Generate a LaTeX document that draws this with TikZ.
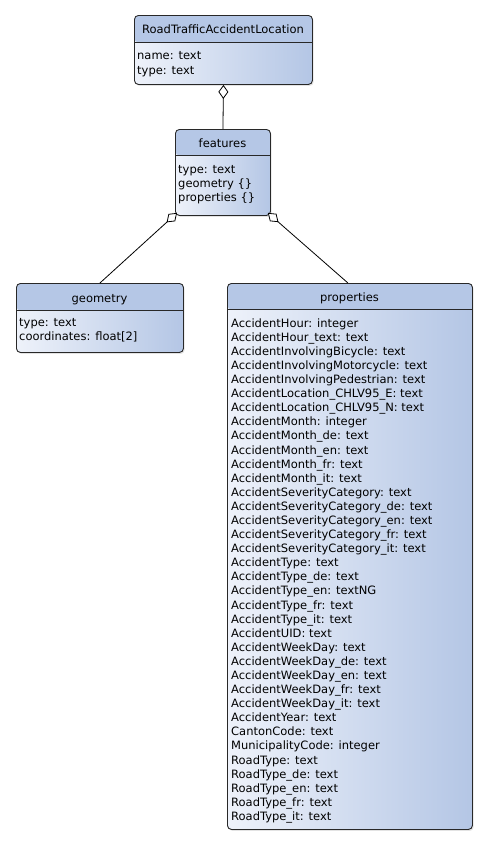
\documentclass[tikz,border=0pt]{standalone}
\usepackage{fontspec}
\setmainfont{DejaVu Sans}
\usetikzlibrary{arrows.meta,shadows}

\definecolor{headblue}{RGB}{181,199,230}
\definecolor{bodylight}{RGB}{238,242,250}
\definecolor{bodydark}{RGB}{180,198,229}
\definecolor{edgegray}{RGB}{40,40,40}

\tikzset{
  % class box: shaded body, header band of height #1, separator line
  classbox/.style={
    draw=edgegray, line width=0.9pt, rounded corners=4pt,
    anchor=north west, inner sep=0pt,
    left color=bodylight, right color=bodydark,
    drop shadow={shadow xshift=1.2pt, shadow yshift=-1.5pt, opacity=0.22},
    path picture={
      \fill[headblue] (path picture bounding box.north west)
        rectangle ([yshift=-#1]path picture bounding box.north east);
      \draw[edgegray, line width=0.9pt]
        ([yshift=-#1]path picture bounding box.north west)
        -- ([yshift=-#1]path picture bounding box.north east);
    }
  },
  classtitle/.style={anchor=base, inner sep=0pt, font=\fontsize{11.5}{13}\selectfont},
  attrs/.style={anchor=north west, inner sep=0pt, align=left, font=\fontsize{11.5}{#1}\selectfont},
  aggr/.style={draw=black, line width=0.8pt,
    -{Diamond[fill=white, length=14pt, width=10pt, line width=0.8pt]}}
}

\begin{document}
\begin{tikzpicture}[x=1pt, y=-1pt]
  \fill[white] (0,0) rectangle (488,844);
  \useasboundingbox (0,0) rectangle (488,844);

  % class boxes
  \node[classbox=27pt, minimum width=178pt, minimum height=69pt] (loc) at (134,15) {};
  \node[classbox=26pt, minimum width=95pt, minimum height=86pt] (feat) at (175,129) {};
  \node[classbox=27pt, minimum width=167pt, minimum height=69pt] (geom) at (16,283) {};
  \node[classbox=26pt, minimum width=245pt, minimum height=546pt] (props) at (227,283) {};

  % class names
  \node[classtitle] (loctitle) at (223,33) {RoadTrafficAccidentLocation};
  \node[classtitle] (feattitle) at (222.5,147) {features};
  \node[classtitle] (geomtitle) at (99.5,302) {geometry};
  \node[classtitle] (propstitle) at (349.5,301) {properties};

  % attributes
  \node[attrs=15pt] (locattrs) at (137,49) {\rule{0pt}{10pt}name: text\\type: text};
  \node[attrs=14pt] (featattrs) at (178,163) {\rule{0pt}{10pt}type: text\\geometry \{\}\\properties \{\}};
  \node[attrs=14pt] (geomattrs) at (19,316) {\rule{0pt}{10pt}type: text\\coordinates: float[2]};
  \node[attrs=14.09pt] (propsattrs) at (231,317) {\rule{0pt}{10pt}AccidentHour: integer\\
AccidentHour\_text: text\\
AccidentInvolvingBicycle: text\\
AccidentInvolvingMotorcycle: text\\
AccidentInvolvingPedestrian: text\\
AccidentLocation\_CHLV95\_E: text\\
AccidentLocation\_CHLV95\_N: text\\
AccidentMonth: integer\\
AccidentMonth\_de: text\\
AccidentMonth\_en: text\\
AccidentMonth\_fr: text\\
AccidentMonth\_it: text\\
AccidentSeverityCategory: text\\
AccidentSeverityCategory\_de: text\\
AccidentSeverityCategory\_en: text\\
AccidentSeverityCategory\_fr: text\\
AccidentSeverityCategory\_it: text\\
AccidentType: text\\
AccidentType\_de: text\\
AccidentType\_en: textNG\\
AccidentType\_fr: text\\
AccidentType\_it: text\\
AccidentUID: text\\
AccidentWeekDay: text\\
AccidentWeekDay\_de: text\\
AccidentWeekDay\_en: text\\
AccidentWeekDay\_fr: text\\
AccidentWeekDay\_it: text\\
AccidentYear: text\\
CantonCode: text\\
MunicipalityCode: integer\\
RoadType: text\\
RoadType\_de: text\\
RoadType\_en: text\\
RoadType\_fr: text\\
RoadType\_it: text};

  % aggregations
  \draw[aggr] (feat.north) -- (loc.south);
  \draw[aggr] (geom.north) -- ([xshift=2pt,yshift=3pt]feat.south west);
  \draw[aggr] ([xshift=-2pt]props.north) -- ([xshift=-3pt,yshift=3pt]feat.south east);
\end{tikzpicture}
\end{document}
